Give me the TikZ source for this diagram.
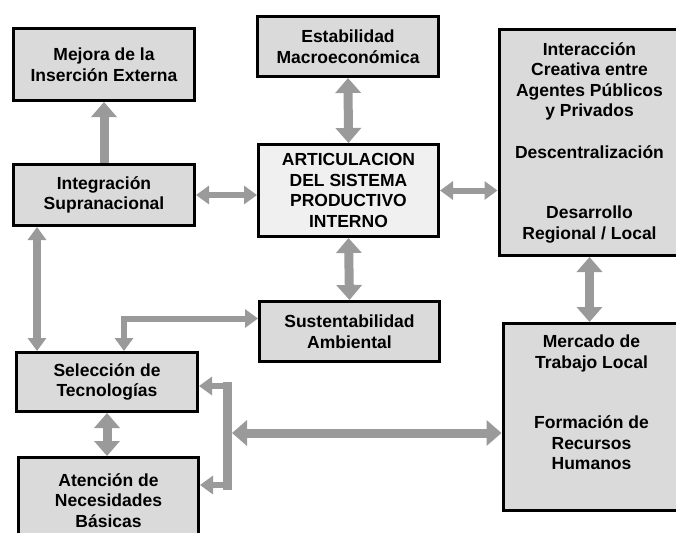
\documentclass[tikz,border=0pt]{standalone}
\usepackage{fontspec}
\setmainfont{Liberation Sans}
\usetikzlibrary{arrows.meta}
\definecolor{boxgray}{HTML}{DADADA}
\definecolor{corefill}{HTML}{F0F0F0}
\definecolor{arrowgray}{HTML}{9A9A9A}
\tikzstyle{block}=[draw, line width=3pt, fill=boxgray, align=center, inner sep=0pt, font=\fontsize{17.5}{20.5}\selectfont\bfseries]
\tikzstyle{widelink}=[arrowgray, line width=9pt, >={Triangle[length=15pt, width=25pt]}]
\tikzstyle{narrowlink}=[arrowgray, line width=6pt, >={Triangle[length=13pt, width=18pt]}]

\begin{document}
\begin{tikzpicture}[x=1pt, y=-1pt]
\useasboundingbox (0,0) rectangle (676,532);

\node [block, minimum width=181pt, minimum height=72pt] (mejora) at (104, 64.5) {Mejora de la\\Inserción Externa};
\node [block, minimum width=181pt, minimum height=61pt] (integ) at (104, 195) {Integración\\Supranacional};
\node [block, minimum width=181pt, minimum height=60pt] (estab) at (348, 46.5) {Estabilidad\\Macroeconómica};
\node [block, fill=corefill, minimum width=180pt, minimum height=92pt] (artic) at (348.5, 190.5) {ARTICULACION\\DEL SISTEMA\\PRODUCTIVO\\INTERNO};
\node [block, minimum width=181pt, minimum height=226pt] (inter) at (589.5, 142.5) {Interacción\\Creativa entre\\Agentes Públicos\\y Privados\\[21pt]Descentralización\\[40pt]Desarrollo\\Regional / Local};
\node [block, minimum width=180pt, minimum height=60pt] (sust) at (349.5, 331.5) {Sustentabilidad\\Ambiental};
\node [block, minimum width=181pt, minimum height=59pt] (selec) at (107, 382) {Selección de\\Tecnologías};
\node [block, minimum width=180pt, minimum height=86pt] (atenc) at (108.5, 500.5) {Atención de\\Necesidades\\Básicas};
\node [block, minimum width=177pt, minimum height=187pt] (merca) at (591.5, 417) {Mercado de\\Trabajo Local\\[40pt]Formación de\\Recursos\\Humanos\\[9pt]\mbox{}};

\coordinate (barT) at (227, 386);
\coordinate (barB) at (227, 485);
\coordinate (barM) at (232, 433);

\draw [widelink, ->] (integ.north) -- (mejora.south);
\draw [widelink, <->] (estab.south) -- (artic.north);
\draw [widelink, <->] (artic.south) -- (sust.north);
\draw [widelink, <->] (inter.south) -- (inter.south |- merca.north);
\draw [widelink, <->] (selec.south) -- (selec.south |- atenc.north);
\draw [narrowlink, <->] (integ.east) -- (integ.east -| artic.west);
\draw [narrowlink, <->] (artic.east) -- (artic.east -| inter.west);
\draw [narrowlink, line width=8pt, <->] ([xshift=25pt]integ.south west) -- ([xshift=22pt]selec.north west);
\draw [narrowlink, <->] ([yshift=13pt]sust.west) -| ([xshift=17pt]selec.north);

\draw [narrowlink, line width=9pt, line cap=rect] (barT) -- (barB);
\draw [narrowlink, ->] ([xshift=5pt]barT) -- (barT -| selec.east);
\draw [narrowlink, ->] ([xshift=5pt]barB) -- (barB -| atenc.east);
\draw [widelink, <->] (barM) -- (barM -| merca.west);

\end{tikzpicture}
\end{document}
